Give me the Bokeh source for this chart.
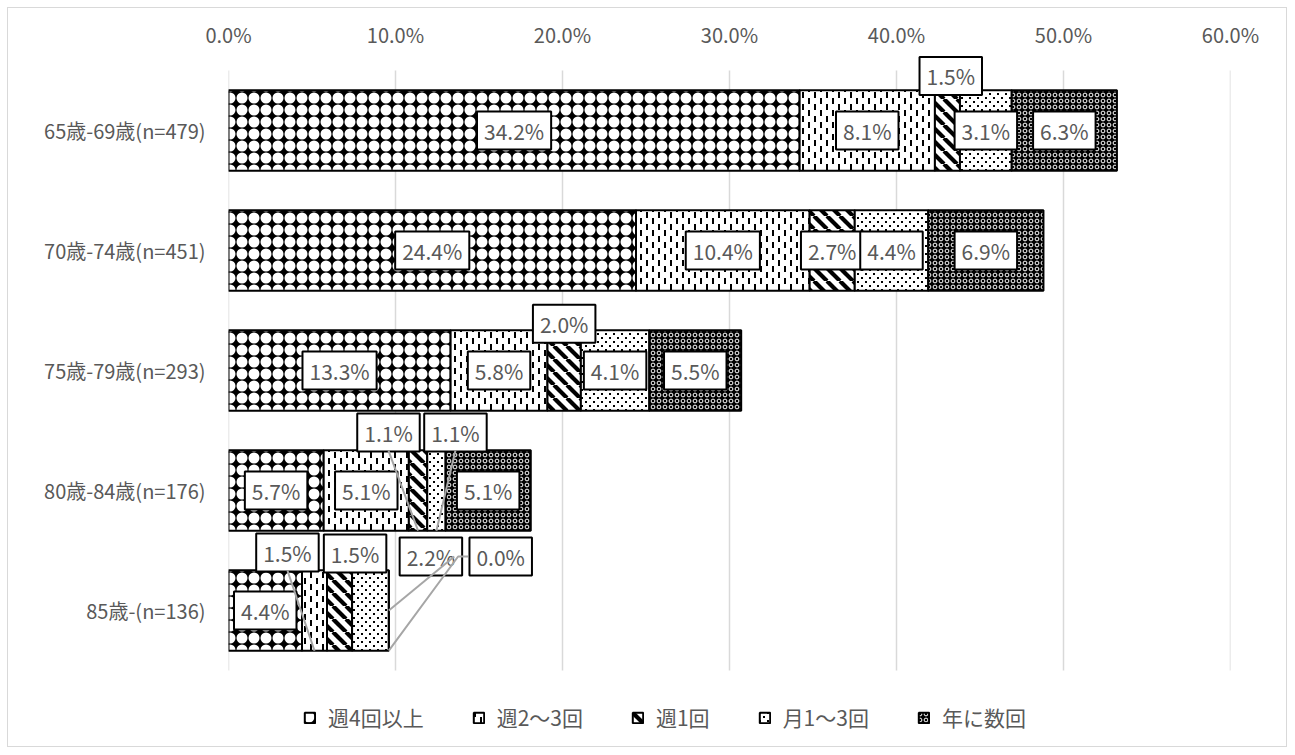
import base64
import numpy as np
from bokeh.plotting import figure
from bokeh.models import (Range1d, FixedTicker, Legend, LegendItem, ImageURLTexture,
                          CustomJSTickFormatter)
from bokeh.core.properties import value
from bokeh.embed import file_html
from bokeh.resources import INLINE

# ---------------- data ----------------
categories = ["65歳-69歳(n=479)", "70歳-74歳(n=451)", "75歳-79歳(n=293)",
              "80歳-84歳(n=176)", "85歳-(n=136)"]
series_names = ["週4回以上", "週2～3回", "週1回", "月1～3回", "年に数回"]
weekly_4plus = [34.2, 24.4, 13.3, 5.7, 4.4]
weekly_2to3 = [8.1, 10.4, 5.8, 5.1, 1.5]
weekly_1 = [1.5, 2.7, 2.0, 1.1, 1.5]
monthly_1to3 = [3.1, 4.4, 4.1, 1.1, 2.2]
few_per_year = [6.3, 6.9, 5.5, 5.1, 0.0]
x_ticks = [0, 10, 20, 30, 40, 50, 60]

# ---------------- layout / style ----------------
FONT = "Noto Sans CJK JP"
GRAY = "#595959"
BAR_H = 0.67
BOX_HALF = 0.15
W, H = 1280, 740
TOP, BOTTOM = 47, 5
Y_TOP = 4.625
UNIT_PX = 120
Y_BOTTOM = Y_TOP - (H - TOP - BOTTOM) / UNIT_PX   # frame extends down to hold the legend

# label offsets (series index, category index) -> (dx in %, dy in category units)
label_offsets = {
    (2, 0): (0.2, 0.454),
    (2, 2): (0.0, 0.39),
    (2, 3): (-1.77, 0.483),
    (3, 3): (1.14, 0.483),
    (1, 4): (-1.62, 0.483),
    (2, 4): (0.93, 0.475),
    (3, 4): (3.62, 0.45),
    (4, 4): (6.7, 0.45),
}
leaders = [(2, 3, "bottom"), (3, 3, "bottom"), (1, 4, "bottom"),
           (3, 4, "end_mid"), (4, 4, "end_bottom")]

SVG_HEAD = "<svg xmlns='http://www.w3.org/2000/svg' width='{s}' height='{s}' viewBox='0 0 {s} {s}'>"
tiles = {
    "p1": (12, "<rect width='12' height='12' fill='black'/><circle cx='6' cy='6' r='5.5' fill='white'/>"),
    "p2": (12, "<rect width='12' height='12' fill='white'/><rect x='2' y='0' width='2' height='6' fill='black'/>"
               "<rect x='8' y='6' width='2' height='6' fill='black'/>"),
    "p3": (13, "<rect width='13' height='13' fill='white'/>"
               "<path d='M-13 0 L0 13 M0 0 L13 13 M13 0 L26 13 M-6.5 -6.5 L6.5 6.5' stroke='black' stroke-width='4.2'/>"),
    "p4": (8, "<rect width='8' height='8' fill='white'/><rect x='1' y='1' width='2' height='2' fill='black'/>"
              "<rect x='5' y='5' width='2' height='2' fill='black'/>"),
    "p5": (6, "<rect width='6' height='6' fill='black'/><circle cx='3' cy='3' r='1.9' fill='none' stroke='white' stroke-width='1'/>"),
}
pattern_keys = ["p1", "p2", "p3", "p4", "p5"]


def tile_url(key):
    s, body = tiles[key]
    svg = SVG_HEAD.format(s=s) + body + "</svg>"
    return "data:image/svg+xml;base64," + base64.b64encode(svg.encode()).decode()


# ---------------- computations ----------------
vals = np.array([weekly_4plus, weekly_2to3, weekly_1, monthly_1to3, few_per_year])
right = np.cumsum(vals, axis=0)
left = right - vals
n = len(categories)
ypos = [n - 1 - i for i in range(n)]

p = figure(width=W, height=H, x_range=Range1d(0, 60), y_range=Range1d(Y_BOTTOM, Y_TOP),
           x_axis_location="above", output_backend="svg", toolbar_location=None,
           min_border_left=220, min_border_right=58, min_border_top=TOP, min_border_bottom=BOTTOM)
p.styles = {"border": "1px solid #d9d9d9", "margin": "7px 0px 0px 7px"}
p.outline_line_color = None
p.background_fill_color = "white"
p.border_fill_color = "white"
p.grid.visible = False

# vertical gridlines spanning the category band only
p.segment(x0=x_ticks, x1=x_ticks, y0=[-0.5] * len(x_ticks), y1=[4.5] * len(x_ticks),
          line_color="#d9d9d9", line_width=1.5)

xa = p.xaxis[0]
xa.ticker = FixedTicker(ticks=x_ticks)
xa.formatter = CustomJSTickFormatter(code="return tick.toFixed(1) + '%';")
xa.axis_line_color = None
xa.major_tick_line_color = None
xa.minor_tick_line_color = None
xa.major_tick_out = 0
xa.major_tick_in = 0
xa.major_label_standoff = 7
xa.major_label_text_font = FONT
xa.major_label_text_font_size = "20px"
xa.major_label_text_color = GRAY

ya = p.yaxis[0]
ya.ticker = FixedTicker(ticks=ypos)
ya.major_label_overrides = {ypos[i]: categories[i] for i in range(n)}
ya.axis_line_color = None
ya.major_tick_line_color = None
ya.minor_tick_line_color = None
ya.major_tick_out = 0
ya.major_tick_in = 0
ya.major_label_standoff = 23
ya.major_label_text_font = FONT
ya.major_label_text_font_size = "20px"
ya.major_label_text_color = GRAY

items = []
for s in range(5):
    key = pattern_keys[s]
    r = p.hbar(y=ypos, left=list(left[s]), right=list(right[s]), height=BAR_H,
               fill_color="white", line_color="black", line_width=2,
               hatch_pattern=value(key),
               hatch_extra={key: ImageURLTexture(url=tile_url(key))})
    items.append(LegendItem(label=series_names[s], renderers=[r]))

# value labels
lx, ly, lt = [], [], []
for s in range(5):
    for c in range(n):
        dx, dy = label_offsets.get((s, c), (0.0, 0.0))
        lx.append((left[s][c] + right[s][c]) / 2 + dx)
        ly.append(ypos[c] + dy)
        lt.append(f"{vals[s][c]:.1f}%")

p.text(x=lx, y=ly, text=lt, text_font=value(FONT), text_font_size="21px",
       text_color=GRAY, text_align="center", text_baseline="middle",
       background_fill_color="white", border_line_color="black",
       border_line_width=2, padding=dict(left=7, right=7, top=4, bottom=4))

# leader lines
xs, ys = [], []
for s, c, kind in leaders:
    dx, dy = label_offsets[(s, c)]
    cx = (left[s][c] + right[s][c]) / 2
    lxx, lyy = cx + dx, ypos[c] + dy
    if kind == "bottom":
        xs.append([lxx, cx]); ys.append([lyy - BOX_HALF, ypos[c] - BAR_H / 2])
    elif kind == "end_mid":
        xs.append([lxx + 1.4, right[s][c]]); ys.append([lyy, ypos[c]])
    else:
        xs.append([lxx - 1.95, lxx - 2.55, right[s][c]])
        ys.append([lyy, lyy, ypos[c] - BAR_H / 2])
p.multi_line(xs=xs, ys=ys, line_color="#a6a6a6", line_width=2)

legend = Legend(items=items, orientation="horizontal", location=(75, 11),
                glyph_width=13, glyph_height=13, label_text_font=FONT,
                label_text_font_size="21px", label_text_color=GRAY,
                label_standoff=12, spacing=48, padding=0, margin=0,
                border_line_color=None, background_fill_alpha=0)
p.add_layout(legend, "center")

open("out.html", "w").write(file_html(p, INLINE))
